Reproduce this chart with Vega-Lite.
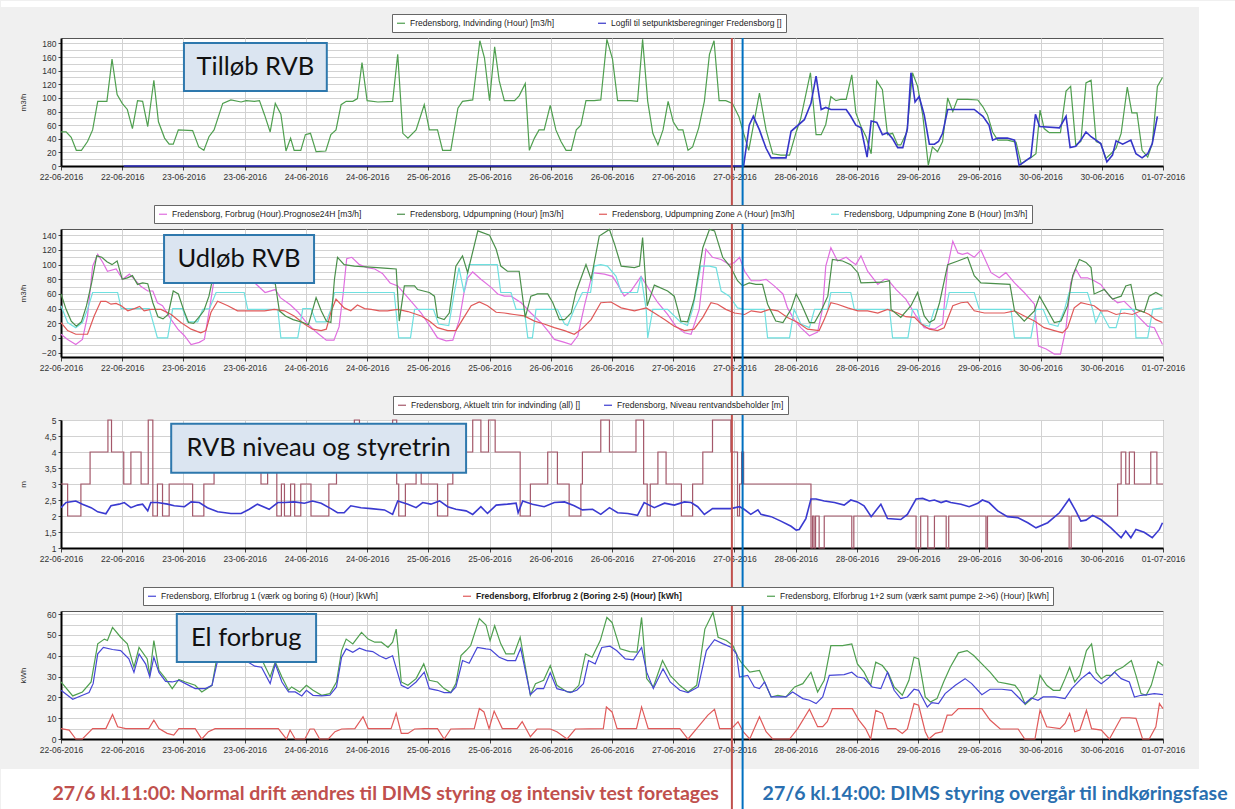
{
"$schema":"https://vega.github.io/schema/vega-lite/v6.json",
"background":"#f0f0f0",
"padding":0,
"bounds":"flush",
"spacing":63,
"resolve":{"scale":{"color":"independent"},"legend":{"color":"independent"}},
"config":{
 "view":{"fill":"white","stroke":"#555","strokeWidth":1},
 "axis":{"labelFont":"Liberation Sans","labelFontSize":8.5,"labelColor":"#333","labelOverlap":false,"labelSeparation":0,"titleFont":"Liberation Sans","titleFontSize":8,"titleFontWeight":"normal","titleColor":"#333","gridColor":"#d2d2d2","gridWidth":1,"tickColor":"#444","domainColor":"#000","domainWidth":2},
 "legend":{"fillColor":"white","strokeColor":"#666","padding":4,"labelFont":"Liberation Sans","labelFontSize":8.5,"labelColor":"#222","symbolType":"stroke","symbolSize":64,"symbolStrokeWidth":1.5,"labelLimit":400,"symbolOffset":0},
 "line":{"strokeWidth":1.2}
},
"datasets":{
"p1g":[{"t":0,"v":50},{"t":1,"v":50},{"t":2,"v":42},{"t":3,"v":23},{"t":4,"v":23},{"t":5.2,"v":36},{"t":6.2,"v":53},{"t":7.2,"v":95},{"t":9,"v":95},{"t":10,"v":157},{"t":11,"v":105},{"t":12,"v":92},{"t":13,"v":83},{"t":14,"v":55},{"t":15,"v":96},{"t":16,"v":95},{"t":17,"v":58},{"t":18.2,"v":126},{"t":19.1,"v":65},{"t":20.3,"v":41},{"t":21.2,"v":32},{"t":22,"v":32},{"t":23,"v":53},{"t":25.8,"v":52},{"t":27,"v":28},{"t":28,"v":23},{"t":29,"v":43},{"t":30,"v":53},{"t":31.7,"v":92},{"t":33.3,"v":97},{"t":35.3,"v":94},{"t":36.3,"v":96},{"t":37.9,"v":95},{"t":38.9,"v":96},{"t":39.9,"v":75},{"t":41,"v":50},{"t":42,"v":92},{"t":43.1,"v":76},{"t":44.1,"v":22},{"t":45,"v":41},{"t":45.7,"v":23},{"t":47,"v":23},{"t":47.9,"v":46},{"t":48.9,"v":48},{"t":50,"v":21},{"t":51.9,"v":22},{"t":52.9,"v":46},{"t":53.9,"v":53},{"t":54.9,"v":90},{"t":55.9,"v":95},{"t":57.2,"v":95},{"t":58.1,"v":99},{"t":59,"v":152},{"t":60,"v":96},{"t":62.1,"v":94},{"t":65,"v":95},{"t":66,"v":164},{"t":67,"v":48},{"t":68,"v":41},{"t":69.6,"v":53},{"t":71.2,"v":90},{"t":72.2,"v":53},{"t":73.8,"v":53},{"t":74.8,"v":23},{"t":76.4,"v":23},{"t":77.8,"v":85},{"t":78.7,"v":95},{"t":80.7,"v":97},{"t":82.1,"v":184},{"t":83,"v":159},{"t":84,"v":96},{"t":85,"v":175},{"t":85.9,"v":125},{"t":86.9,"v":96},{"t":88.9,"v":96},{"t":89.8,"v":103},{"t":91,"v":121},{"t":91.8,"v":23},{"t":92.8,"v":41},{"t":93.7,"v":53},{"t":94.7,"v":53},{"t":95.9,"v":89},{"t":97,"v":53},{"t":98,"v":36},{"t":99,"v":23},{"t":100,"v":23},{"t":101,"v":53},{"t":101.9,"v":60},{"t":102.9,"v":96},{"t":104.5,"v":96},{"t":105.8,"v":97},{"t":107,"v":186},{"t":108.1,"v":157},{"t":109.1,"v":96},{"t":111.7,"v":96},{"t":113,"v":95},{"t":114,"v":186},{"t":115,"v":95},{"t":116,"v":48},{"t":117,"v":31},{"t":118,"v":53},{"t":119,"v":95},{"t":120,"v":65},{"t":121,"v":53},{"t":121.9,"v":53},{"t":122.9,"v":23},{"t":123.8,"v":28},{"t":125,"v":56},{"t":126.1,"v":95},{"t":127.1,"v":164},{"t":128,"v":184},{"t":129,"v":96},{"t":130.3,"v":96},{"t":131.6,"v":92},{"t":132.9,"v":72},{"t":133.8,"v":48},{"t":134.8,"v":23},{"t":136.9,"v":107},{"t":138.2,"v":53},{"t":139.5,"v":18},{"t":141.1,"v":16},{"t":142.8,"v":16},{"t":144.1,"v":50},{"t":145,"v":70},{"t":146.9,"v":137},{"t":148,"v":46},{"t":149,"v":46},{"t":149.9,"v":61},{"t":150.9,"v":102},{"t":151.9,"v":96},{"t":152.9,"v":98},{"t":153.9,"v":98},{"t":155,"v":134},{"t":155.8,"v":78},{"t":156.8,"v":58},{"t":157.8,"v":43},{"t":158.8,"v":18},{"t":159.9,"v":125},{"t":161,"v":112},{"t":162,"v":46},{"t":163,"v":48},{"t":164,"v":31},{"t":164.6,"v":31},{"t":165.8,"v":50},{"t":166.9,"v":137},{"t":167.9,"v":117},{"t":168.9,"v":75},{"t":170,"v":1},{"t":170.8,"v":28},{"t":171.8,"v":21},{"t":172.8,"v":36},{"t":173.8,"v":100},{"t":174.8,"v":80},{"t":175.7,"v":98},{"t":177.7,"v":98},{"t":179.7,"v":97},{"t":180.7,"v":87},{"t":181.6,"v":75},{"t":182.6,"v":50},{"t":183.6,"v":38},{"t":185.5,"v":38},{"t":187.2,"v":35},{"t":188.2,"v":3},{"t":189.1,"v":8},{"t":190.1,"v":12},{"t":191.1,"v":18},{"t":191.9,"v":82},{"t":192.7,"v":55},{"t":193.7,"v":49},{"t":195.9,"v":49},{"t":197,"v":110},{"t":197.9,"v":117},{"t":198.9,"v":31},{"t":199.9,"v":36},{"t":200.9,"v":122},{"t":201.9,"v":126},{"t":202.9,"v":36},{"t":203.8,"v":33},{"t":204.8,"v":11},{"t":205.8,"v":18},{"t":206.8,"v":26},{"t":207.8,"v":48},{"t":209,"v":116},{"t":209.9,"v":78},{"t":210.9,"v":78},{"t":211.9,"v":23},{"t":213,"v":13},{"t":213.9,"v":33},{"t":214.9,"v":117},{"t":215.9,"v":130}],
"p1b":[{"t":12.3,"v":0},{"t":133.8,"v":0},{"t":134.9,"v":60},{"t":135.7,"v":73},{"t":136.9,"v":53},{"t":138.2,"v":26},{"t":139.2,"v":12},{"t":142.1,"v":12},{"t":143.1,"v":51},{"t":145.7,"v":68},{"t":147,"v":92},{"t":148,"v":132},{"t":149,"v":83},{"t":149.9,"v":86},{"t":150.9,"v":83},{"t":153.9,"v":83},{"t":154.8,"v":73},{"t":155.8,"v":60},{"t":156.8,"v":56},{"t":158,"v":13},{"t":158.8,"v":66},{"t":159.9,"v":64},{"t":161,"v":46},{"t":162,"v":49},{"t":163,"v":40},{"t":164,"v":27},{"t":165,"v":27},{"t":165.9,"v":55},{"t":166.6,"v":137},{"t":167.4,"v":94},{"t":168.2,"v":102},{"t":169.2,"v":75},{"t":170.2,"v":32},{"t":171.2,"v":32},{"t":172,"v":36},{"t":172.8,"v":48},{"t":173.8,"v":83},{"t":179,"v":83},{"t":180.7,"v":73},{"t":181.9,"v":60},{"t":182.6,"v":38},{"t":183.6,"v":41},{"t":185.5,"v":41},{"t":186.9,"v":38},{"t":187.8,"v":1},{"t":188.8,"v":6},{"t":190.1,"v":13},{"t":191,"v":76},{"t":191.8,"v":58},{"t":195.7,"v":56},{"t":197,"v":73},{"t":197.8,"v":27},{"t":198.9,"v":29},{"t":199.9,"v":38},{"t":200.9,"v":50},{"t":201.9,"v":43},{"t":203.8,"v":33},{"t":205,"v":6},{"t":206.1,"v":16},{"t":206.8,"v":37},{"t":208.1,"v":32},{"t":209.7,"v":38},{"t":210.7,"v":18},{"t":211.9,"v":12},{"t":213,"v":18},{"t":213.9,"v":33},{"t":214.9,"v":73}],
"p2p":[{"t":0,"v":5},{"t":1.3,"v":-2},{"t":2.9,"v":-9},{"t":4.2,"v":-2},{"t":5.2,"v":30},{"t":6.2,"v":98},{"t":7.2,"v":114},{"t":8.2,"v":103},{"t":9.1,"v":91},{"t":10.8,"v":94},{"t":12.1,"v":80},{"t":13.4,"v":87},{"t":14.4,"v":80},{"t":15.7,"v":70},{"t":17,"v":64},{"t":18,"v":64},{"t":18.9,"v":48},{"t":19.9,"v":44},{"t":21.6,"v":25},{"t":22.9,"v":12},{"t":24.2,"v":3},{"t":25.5,"v":-9},{"t":27.1,"v":-6},{"t":28.1,"v":-2},{"t":29.1,"v":39},{"t":30,"v":80},{"t":31,"v":108},{"t":32,"v":104},{"t":34,"v":96},{"t":36,"v":85},{"t":38,"v":75},{"t":40,"v":62},{"t":42,"v":66},{"t":43,"v":55},{"t":45,"v":45},{"t":46.5,"v":35},{"t":48,"v":22},{"t":50,"v":8},{"t":52,"v":-3},{"t":53.5,"v":-3},{"t":54.5,"v":15},{"t":55.3,"v":60},{"t":56,"v":108},{"t":57,"v":110},{"t":58.5,"v":100},{"t":60,"v":96},{"t":61.5,"v":94},{"t":63,"v":88},{"t":64.5,"v":75},{"t":66,"v":71},{"t":68,"v":55},{"t":70.6,"v":34},{"t":72.5,"v":14},{"t":73.8,"v":0},{"t":75.5,"v":-4},{"t":76.8,"v":-3},{"t":78.1,"v":25},{"t":79,"v":62},{"t":79.7,"v":82},{"t":80.7,"v":90},{"t":82.3,"v":80},{"t":84.3,"v":69},{"t":85.6,"v":60},{"t":86.9,"v":57},{"t":88.2,"v":57},{"t":90.2,"v":48},{"t":92.1,"v":34},{"t":94.1,"v":21},{"t":95.4,"v":10},{"t":96.7,"v":-2},{"t":98.7,"v":-6},{"t":100,"v":-9},{"t":101.3,"v":3},{"t":102.6,"v":44},{"t":104.2,"v":89},{"t":106.5,"v":87},{"t":108.1,"v":84},{"t":109.1,"v":73},{"t":110.4,"v":57},{"t":111.7,"v":64},{"t":113.7,"v":84},{"t":115.3,"v":66},{"t":117,"v":48},{"t":118.9,"v":32},{"t":120.5,"v":16},{"t":122.2,"v":7},{"t":123.5,"v":5},{"t":125.1,"v":39},{"t":126.4,"v":121},{"t":127.7,"v":110},{"t":129.4,"v":107},{"t":131,"v":100},{"t":132,"v":103},{"t":133,"v":110},{"t":134,"v":91},{"t":135.3,"v":78},{"t":136.9,"v":78},{"t":138.2,"v":80},{"t":139.8,"v":71},{"t":141.5,"v":60},{"t":142.4,"v":41},{"t":143.7,"v":25},{"t":145,"v":14},{"t":146.7,"v":3},{"t":148.3,"v":8},{"t":149.3,"v":41},{"t":149.9,"v":98},{"t":150.9,"v":123},{"t":152.2,"v":105},{"t":153.9,"v":110},{"t":154.8,"v":105},{"t":155.8,"v":100},{"t":156.8,"v":112},{"t":158.1,"v":91},{"t":160.1,"v":73},{"t":161.4,"v":80},{"t":162,"v":80},{"t":163.7,"v":66},{"t":165.6,"v":53},{"t":167.6,"v":30},{"t":169.2,"v":14},{"t":171.2,"v":12},{"t":172.8,"v":19},{"t":173.8,"v":98},{"t":174.8,"v":132},{"t":175.8,"v":116},{"t":176.7,"v":114},{"t":177.7,"v":116},{"t":179,"v":110},{"t":180.3,"v":120},{"t":182.3,"v":89},{"t":183.9,"v":82},{"t":185.2,"v":89},{"t":186.9,"v":75},{"t":188.8,"v":62},{"t":190.8,"v":46},{"t":191.6,"v":-11},{"t":193.1,"v":-15},{"t":194.7,"v":-22},{"t":195.9,"v":-22},{"t":197,"v":14},{"t":197.9,"v":75},{"t":198.9,"v":94},{"t":199.9,"v":82},{"t":201.2,"v":82},{"t":202.5,"v":78},{"t":203.8,"v":73},{"t":205.5,"v":57},{"t":207.1,"v":48},{"t":208.4,"v":50},{"t":209.7,"v":41},{"t":211,"v":30},{"t":213,"v":16},{"t":214.3,"v":14},{"t":215.9,"v":-9}],
"p2u":[{"t":0,"v":60},{"t":1,"v":39},{"t":2,"v":23},{"t":3,"v":16},{"t":4,"v":22},{"t":5,"v":44},{"t":6,"v":75},{"t":7,"v":112},{"t":8,"v":110},{"t":9,"v":104},{"t":10,"v":100},{"t":11,"v":105},{"t":12,"v":80},{"t":13,"v":82},{"t":14,"v":85},{"t":15,"v":73},{"t":16,"v":75},{"t":17,"v":74},{"t":18,"v":48},{"t":19,"v":29},{"t":20,"v":26},{"t":21,"v":32},{"t":22,"v":64},{"t":23,"v":60},{"t":24,"v":39},{"t":25,"v":21},{"t":26,"v":20},{"t":27,"v":28},{"t":28,"v":37},{"t":29,"v":57},{"t":30,"v":90},{"t":31,"v":108},{"t":32,"v":110},{"t":33,"v":106},{"t":34,"v":104},{"t":35,"v":100},{"t":36,"v":88},{"t":37,"v":76},{"t":40,"v":75},{"t":42,"v":74},{"t":42.8,"v":37},{"t":44,"v":30},{"t":45.5,"v":25},{"t":47.4,"v":21},{"t":48.5,"v":18},{"t":50,"v":55},{"t":51,"v":37},{"t":52,"v":23},{"t":52.9,"v":21},{"t":53.6,"v":80},{"t":54.2,"v":110},{"t":55.5,"v":100},{"t":57.5,"v":98},{"t":59.8,"v":97},{"t":62,"v":96},{"t":64,"v":95},{"t":65.7,"v":94},{"t":66.3,"v":23},{"t":67.3,"v":71},{"t":69.3,"v":71},{"t":69.9,"v":66},{"t":72.2,"v":62},{"t":73.2,"v":57},{"t":73.8,"v":28},{"t":75.1,"v":25},{"t":76.1,"v":34},{"t":77.4,"v":98},{"t":78.7,"v":112},{"t":79.7,"v":89},{"t":81.7,"v":146},{"t":84,"v":140},{"t":85.3,"v":121},{"t":86.2,"v":98},{"t":87.5,"v":91},{"t":89.8,"v":91},{"t":91,"v":28},{"t":92.1,"v":57},{"t":93.4,"v":60},{"t":95.4,"v":60},{"t":96.4,"v":48},{"t":97.7,"v":25},{"t":98.7,"v":25},{"t":100,"v":34},{"t":100.9,"v":62},{"t":102.9,"v":100},{"t":103.9,"v":80},{"t":105.5,"v":139},{"t":107.5,"v":148},{"t":108.5,"v":128},{"t":109.8,"v":98},{"t":112.4,"v":96},{"t":113.4,"v":98},{"t":114,"v":137},{"t":114.9,"v":44},{"t":116.3,"v":72},{"t":118.9,"v":64},{"t":120.2,"v":57},{"t":121.5,"v":23},{"t":122.8,"v":22},{"t":124.1,"v":53},{"t":125.8,"v":123},{"t":127.1,"v":148},{"t":128.1,"v":146},{"t":129.7,"v":110},{"t":131.3,"v":96},{"t":132.6,"v":78},{"t":133.6,"v":71},{"t":134.9,"v":75},{"t":136.2,"v":73},{"t":137.5,"v":73},{"t":138.5,"v":46},{"t":140.1,"v":23},{"t":141.5,"v":21},{"t":143.1,"v":39},{"t":144.1,"v":60},{"t":145,"v":48},{"t":146.7,"v":21},{"t":147.7,"v":21},{"t":149,"v":37},{"t":150.3,"v":57},{"t":151.2,"v":107},{"t":153.2,"v":105},{"t":154.8,"v":100},{"t":156.2,"v":89},{"t":156.8,"v":75},{"t":161,"v":76},{"t":162.4,"v":78},{"t":162.7,"v":39},{"t":164.6,"v":28},{"t":166.6,"v":44},{"t":167.9,"v":62},{"t":169.2,"v":30},{"t":170.2,"v":21},{"t":171.2,"v":25},{"t":172.2,"v":48},{"t":173.8,"v":100},{"t":175.8,"v":105},{"t":177.7,"v":110},{"t":179,"v":85},{"t":180.3,"v":75},{"t":186,"v":73},{"t":186.9,"v":37},{"t":188.8,"v":23},{"t":190.8,"v":37},{"t":191.8,"v":57},{"t":193.1,"v":41},{"t":194.7,"v":21},{"t":196,"v":23},{"t":197.3,"v":44},{"t":198.3,"v":85},{"t":199.6,"v":107},{"t":200.9,"v":103},{"t":201.9,"v":96},{"t":202.5,"v":60},{"t":204.5,"v":66},{"t":206.1,"v":53},{"t":207.8,"v":57},{"t":208.7,"v":71},{"t":209.7,"v":73},{"t":210.7,"v":39},{"t":212.3,"v":35},{"t":213.3,"v":57},{"t":214.6,"v":62},{"t":215.9,"v":57}],
"p2a":[{"t":0,"v":21},{"t":1.3,"v":10},{"t":2.9,"v":5},{"t":5.2,"v":5},{"t":6.5,"v":30},{"t":7.8,"v":50},{"t":8.8,"v":50},{"t":9.8,"v":46},{"t":10.8,"v":47},{"t":11.8,"v":44},{"t":13.1,"v":37},{"t":14.4,"v":40},{"t":15.4,"v":43},{"t":16.3,"v":37},{"t":17.6,"v":39},{"t":19.6,"v":39},{"t":21.6,"v":32},{"t":23.5,"v":21},{"t":25.5,"v":12},{"t":27.4,"v":7},{"t":28.4,"v":10},{"t":29.4,"v":35},{"t":30.7,"v":50},{"t":32.7,"v":44},{"t":34.6,"v":37},{"t":37.2,"v":37},{"t":39.9,"v":37},{"t":41.8,"v":39},{"t":43.8,"v":37},{"t":45.7,"v":30},{"t":47.7,"v":19},{"t":49.3,"v":12},{"t":51,"v":10},{"t":52,"v":12},{"t":52.9,"v":35},{"t":53.9,"v":53},{"t":55.5,"v":41},{"t":56.8,"v":37},{"t":58.1,"v":45},{"t":59.5,"v":40},{"t":60.8,"v":39},{"t":62.4,"v":37},{"t":64,"v":37},{"t":66,"v":39},{"t":68,"v":36},{"t":70.6,"v":30},{"t":72.2,"v":23},{"t":73.8,"v":14},{"t":75.8,"v":10},{"t":77.4,"v":10},{"t":78.7,"v":25},{"t":80.4,"v":44},{"t":82,"v":49},{"t":83.6,"v":44},{"t":85.3,"v":35},{"t":86.9,"v":34},{"t":88.8,"v":32},{"t":90.8,"v":30},{"t":92.8,"v":23},{"t":94.7,"v":19},{"t":96.7,"v":14},{"t":98.7,"v":10},{"t":100.6,"v":5},{"t":102.2,"v":13},{"t":103.9,"v":25},{"t":105.8,"v":48},{"t":107.8,"v":49},{"t":109.8,"v":41},{"t":112.4,"v":37},{"t":114.7,"v":41},{"t":116.3,"v":34},{"t":118.3,"v":25},{"t":120.2,"v":16},{"t":122.2,"v":10},{"t":124.1,"v":12},{"t":125.8,"v":28},{"t":127.4,"v":48},{"t":128.7,"v":46},{"t":130.3,"v":39},{"t":132,"v":34},{"t":134,"v":32},{"t":135.3,"v":37},{"t":137.2,"v":35},{"t":138.9,"v":39},{"t":140.5,"v":37},{"t":142.4,"v":28},{"t":144.4,"v":21},{"t":146.3,"v":12},{"t":148.6,"v":10},{"t":149.6,"v":25},{"t":150.9,"v":48},{"t":152.2,"v":46},{"t":154.2,"v":41},{"t":156.2,"v":37},{"t":158.1,"v":37},{"t":160.1,"v":34},{"t":162,"v":39},{"t":164,"v":34},{"t":165.6,"v":29},{"t":167.3,"v":28},{"t":168.6,"v":19},{"t":170.2,"v":12},{"t":171.8,"v":10},{"t":173.1,"v":14},{"t":174.8,"v":44},{"t":176.4,"v":48},{"t":177.7,"v":49},{"t":179,"v":37},{"t":181,"v":34},{"t":184.9,"v":34},{"t":186.9,"v":37},{"t":188.8,"v":30},{"t":190.8,"v":23},{"t":192.7,"v":14},{"t":194.7,"v":10},{"t":196.3,"v":7},{"t":197.3,"v":14},{"t":198.6,"v":41},{"t":199.9,"v":48},{"t":201.2,"v":46},{"t":202.5,"v":44},{"t":203.8,"v":37},{"t":205.1,"v":37},{"t":206.8,"v":32},{"t":208.4,"v":34},{"t":210,"v":32},{"t":211.7,"v":37},{"t":213.3,"v":32},{"t":214.6,"v":25},{"t":215.9,"v":21}],
"p2b":[{"t":0,"v":44},{"t":1.3,"v":21},{"t":2.9,"v":14},{"t":4.2,"v":21},{"t":5.2,"v":39},{"t":6.2,"v":62},{"t":11.1,"v":62},{"t":11.8,"v":40},{"t":17.3,"v":40},{"t":18.9,"v":0},{"t":20.9,"v":0},{"t":21.9,"v":40},{"t":23.8,"v":40},{"t":24.8,"v":22},{"t":26.8,"v":22},{"t":27.8,"v":39},{"t":29.1,"v":40},{"t":30.4,"v":62},{"t":35.9,"v":62},{"t":36.6,"v":39},{"t":42.5,"v":39},{"t":43.1,"v":0},{"t":46.4,"v":0},{"t":47.4,"v":40},{"t":49,"v":40},{"t":50,"v":22},{"t":52,"v":22},{"t":52.9,"v":39},{"t":53.6,"v":62},{"t":65.3,"v":62},{"t":66.2,"v":0},{"t":68.5,"v":0},{"t":69.3,"v":39},{"t":73,"v":39},{"t":74,"v":19},{"t":76,"v":17},{"t":77,"v":58},{"t":78,"v":96},{"t":79,"v":62},{"t":80,"v":100},{"t":85.5,"v":100},{"t":86.2,"v":62},{"t":88.2,"v":62},{"t":89.2,"v":39},{"t":90.8,"v":39},{"t":91.5,"v":0},{"t":92.4,"v":0},{"t":93.1,"v":39},{"t":97.3,"v":39},{"t":98.7,"v":19},{"t":99.3,"v":17},{"t":100.6,"v":39},{"t":102.2,"v":62},{"t":103.8,"v":62},{"t":104.5,"v":98},{"t":105.8,"v":100},{"t":107.1,"v":98},{"t":108.8,"v":84},{"t":109.8,"v":62},{"t":113,"v":62},{"t":113.7,"v":84},{"t":114.7,"v":39},{"t":115,"v":0},{"t":116,"v":39},{"t":118.9,"v":39},{"t":121.5,"v":21},{"t":122.8,"v":17},{"t":123.8,"v":39},{"t":125.4,"v":98},{"t":127.1,"v":98},{"t":128.4,"v":96},{"t":129.4,"v":64},{"t":131,"v":57},{"t":132.6,"v":41},{"t":133.9,"v":39},{"t":137.9,"v":39},{"t":138.5,"v":0},{"t":142.8,"v":0},{"t":143.7,"v":39},{"t":145,"v":19},{"t":146.7,"v":14},{"t":147.7,"v":39},{"t":150.3,"v":39},{"t":150.9,"v":62},{"t":154.8,"v":62},{"t":155.5,"v":39},{"t":162.4,"v":39},{"t":163,"v":0},{"t":166,"v":0},{"t":166.9,"v":39},{"t":167.8,"v":39},{"t":168.6,"v":19},{"t":170.2,"v":16},{"t":171.2,"v":39},{"t":173.4,"v":39},{"t":174.1,"v":62},{"t":179,"v":62},{"t":180,"v":39},{"t":186.2,"v":39},{"t":186.9,"v":0},{"t":190.1,"v":0},{"t":191.1,"v":39},{"t":192.5,"v":39},{"t":193.7,"v":19},{"t":195.4,"v":16},{"t":196.7,"v":39},{"t":197.6,"v":62},{"t":201.2,"v":62},{"t":202.2,"v":39},{"t":202.8,"v":21},{"t":203.8,"v":36},{"t":205.5,"v":14},{"t":206.8,"v":14},{"t":207.8,"v":39},{"t":210.4,"v":39},{"t":210.7,"v":0},{"t":213,"v":0},{"t":214,"v":39},{"t":215.9,"v":41}],
"p3a":[{"t":0,"v":3},{"t":1.3,"v":2},{"t":3.9,"v":3},{"t":5.7,"v":4},{"t":9.2,"v":5},{"t":9.9,"v":4},{"t":12.3,"v":3},{"t":13.7,"v":4},{"t":15.7,"v":3},{"t":17.1,"v":5},{"t":18,"v":2},{"t":18.9,"v":3},{"t":19.9,"v":2},{"t":21.2,"v":3},{"t":25.8,"v":2},{"t":28,"v":3},{"t":30,"v":4},{"t":39.2,"v":3},{"t":40.5,"v":4},{"t":42.3,"v":2},{"t":43.2,"v":3},{"t":43.8,"v":2},{"t":45,"v":3},{"t":45.8,"v":2},{"t":47,"v":3},{"t":49,"v":2},{"t":52.5,"v":3},{"t":54,"v":4},{"t":57.5,"v":5},{"t":58.5,"v":4},{"t":65,"v":5},{"t":65.8,"v":3},{"t":66.2,"v":2},{"t":67.5,"v":3},{"t":69.6,"v":4},{"t":70.6,"v":3},{"t":73.8,"v":2},{"t":75.8,"v":3},{"t":76.8,"v":4},{"t":80.7,"v":5},{"t":82.3,"v":4},{"t":83.8,"v":5},{"t":85.1,"v":4},{"t":90,"v":2},{"t":92,"v":3},{"t":95.4,"v":4},{"t":97.3,"v":3},{"t":99.6,"v":2},{"t":101.9,"v":3},{"t":102.2,"v":4},{"t":105.8,"v":5},{"t":107.5,"v":4},{"t":112.7,"v":5},{"t":114.2,"v":3},{"t":114.9,"v":2},{"t":115.5,"v":3},{"t":117,"v":4},{"t":118.6,"v":3},{"t":121.6,"v":2},{"t":123.8,"v":3},{"t":125.8,"v":4},{"t":127.7,"v":5},{"t":131.3,"v":4},{"t":132.6,"v":2},{"t":133,"v":3},{"t":133.4,"v":4},{"t":133.8,"v":3},{"t":147,"v":1},{"t":147.3,"v":2},{"t":147.6,"v":1},{"t":147.9,"v":2},{"t":148.6,"v":1},{"t":149.6,"v":2},{"t":155,"v":1},{"t":155.4,"v":2},{"t":167.6,"v":1},{"t":168.5,"v":2},{"t":169.9,"v":1},{"t":171.2,"v":2},{"t":173.5,"v":1},{"t":174,"v":2},{"t":181.3,"v":1},{"t":181.6,"v":2},{"t":197.6,"v":1},{"t":198,"v":2},{"t":207.1,"v":3},{"t":207.8,"v":4},{"t":208.7,"v":3},{"t":209.4,"v":4},{"t":210.4,"v":3},{"t":213.6,"v":4},{"t":214.8,"v":3},{"t":216,"v":3}],
"p3n":[{"t":0,"v":2.26},{"t":1,"v":2.42},{"t":2.9,"v":2.47},{"t":4.2,"v":2.37},{"t":5.9,"v":2.26},{"t":7.2,"v":2.13},{"t":8.8,"v":2.07},{"t":9.8,"v":2.32},{"t":11.4,"v":2.37},{"t":12.4,"v":2.42},{"t":13.7,"v":2.26},{"t":15,"v":2.34},{"t":16,"v":2.37},{"t":17,"v":2.16},{"t":17.6,"v":2.42},{"t":18.9,"v":2.42},{"t":20.9,"v":2.37},{"t":22.2,"v":2.32},{"t":24.2,"v":2.29},{"t":25.5,"v":2.44},{"t":27.1,"v":2.42},{"t":28.7,"v":2.26},{"t":30.7,"v":2.13},{"t":33.3,"v":2.08},{"t":35.3,"v":2.08},{"t":36.9,"v":2.21},{"t":38.5,"v":2.37},{"t":40.8,"v":2.21},{"t":42.5,"v":2.42},{"t":43.8,"v":2.42},{"t":45.7,"v":2.44},{"t":47.7,"v":2.4},{"t":49.3,"v":2.47},{"t":51,"v":2.4},{"t":52.9,"v":2.23},{"t":54.2,"v":2.1},{"t":55.5,"v":2.1},{"t":56.8,"v":2.32},{"t":58.8,"v":2.26},{"t":60.8,"v":2.23},{"t":63.4,"v":2.19},{"t":65,"v":2.05},{"t":66,"v":2.47},{"t":68,"v":2.37},{"t":69.6,"v":2.26},{"t":70.9,"v":2.42},{"t":72.5,"v":2.37},{"t":74.2,"v":2.47},{"t":75.8,"v":2.29},{"t":77.4,"v":2.21},{"t":79.4,"v":2.16},{"t":80.7,"v":2.05},{"t":82.3,"v":2.29},{"t":83.6,"v":2.08},{"t":85.3,"v":2.34},{"t":87.5,"v":2.37},{"t":89.2,"v":2.4},{"t":89.6,"v":2.1},{"t":90.5,"v":2.47},{"t":92.4,"v":2.37},{"t":94.7,"v":2.29},{"t":96.7,"v":2.42},{"t":98.7,"v":2.44},{"t":100.6,"v":2.32},{"t":102.2,"v":2.19},{"t":104.2,"v":2.21},{"t":105.8,"v":2.05},{"t":107.5,"v":2.26},{"t":109.1,"v":2.1},{"t":111.1,"v":2.08},{"t":113,"v":2.02},{"t":114.3,"v":2.42},{"t":116.3,"v":2.26},{"t":118.3,"v":2.4},{"t":120.2,"v":2.34},{"t":122.2,"v":2.44},{"t":123.5,"v":2.42},{"t":124.8,"v":2.29},{"t":126.1,"v":2.05},{"t":127.7,"v":2.23},{"t":131.3,"v":2.23},{"t":133,"v":2.29},{"t":133.9,"v":2.21},{"t":135.2,"v":2.05},{"t":136.6,"v":2.19},{"t":137.2,"v":2.05},{"t":139.2,"v":1.98},{"t":141.1,"v":1.84},{"t":143.1,"v":1.68},{"t":144.1,"v":1.56},{"t":144.7,"v":1.58},{"t":146,"v":1.92},{"t":147,"v":2.53},{"t":148,"v":2.53},{"t":149.6,"v":2.47},{"t":151.6,"v":2.42},{"t":153.5,"v":2.34},{"t":154.8,"v":2.5},{"t":156.1,"v":2.44},{"t":157.4,"v":2.32},{"t":158.8,"v":1.98},{"t":160.7,"v":2.37},{"t":162,"v":1.92},{"t":164.6,"v":1.89},{"t":165.9,"v":2.05},{"t":167.6,"v":2.53},{"t":168.9,"v":2.55},{"t":170.2,"v":2.47},{"t":171.2,"v":2.5},{"t":172.5,"v":2.42},{"t":173.5,"v":2.47},{"t":174.4,"v":2.42},{"t":176.4,"v":2.37},{"t":178,"v":2.29},{"t":179.7,"v":2.4},{"t":180.6,"v":2.5},{"t":181.9,"v":2.42},{"t":183.6,"v":2.16},{"t":185.5,"v":1.98},{"t":187.5,"v":1.95},{"t":189.5,"v":1.79},{"t":191.1,"v":1.63},{"t":193.4,"v":1.79},{"t":195.7,"v":2.1},{"t":197.6,"v":2.53},{"t":198.9,"v":2.16},{"t":199.9,"v":1.84},{"t":200.9,"v":1.87},{"t":202.2,"v":2.02},{"t":203.8,"v":1.89},{"t":205.8,"v":1.63},{"t":207.8,"v":1.32},{"t":208.7,"v":1.53},{"t":209.7,"v":1.32},{"t":210.7,"v":1.58},{"t":212.3,"v":1.49},{"t":213.9,"v":1.32},{"t":215.3,"v":1.58},{"t":215.9,"v":1.79}],
"p4a":[{"t":0,"v":23.4},{"t":2.3,"v":19.1},{"t":4.2,"v":21},{"t":5.5,"v":22.3},{"t":6.3,"v":26.6},{"t":7.2,"v":40.9},{"t":8.3,"v":44},{"t":10.1,"v":43},{"t":11.7,"v":42.5},{"t":13.3,"v":38.5},{"t":14.3,"v":32},{"t":15.3,"v":40.9},{"t":16.6,"v":36},{"t":17.4,"v":29.8},{"t":18.2,"v":39.3},{"t":19.2,"v":32},{"t":20.5,"v":27.7},{"t":21.8,"v":27.4},{"t":23.1,"v":28.2},{"t":24.4,"v":26.6},{"t":26.3,"v":24.2},{"t":28.3,"v":24.2},{"t":29.6,"v":25.8},{"t":30.9,"v":40},{"t":32,"v":42},{"t":34,"v":42},{"t":36,"v":38},{"t":38,"v":35},{"t":39.3,"v":34.5},{"t":41,"v":26.6},{"t":42,"v":36},{"t":43.3,"v":27.4},{"t":44.6,"v":22.6},{"t":45.9,"v":22.6},{"t":47.2,"v":20.7},{"t":48.1,"v":23.4},{"t":49.4,"v":21},{"t":51.1,"v":20.7},{"t":52.7,"v":21},{"t":54,"v":25},{"t":55,"v":39.3},{"t":55.9,"v":43.3},{"t":57.2,"v":41.7},{"t":58.5,"v":43.6},{"t":59.8,"v":42.5},{"t":61.1,"v":42},{"t":62.4,"v":40},{"t":63.7,"v":38.5},{"t":65,"v":40},{"t":66.7,"v":25.8},{"t":68,"v":24.2},{"t":69.6,"v":27.4},{"t":71.2,"v":32.1},{"t":72.2,"v":24.2},{"t":73.8,"v":23.4},{"t":75.1,"v":22.3},{"t":76.4,"v":22.3},{"t":77.4,"v":25},{"t":78.7,"v":37.7},{"t":80,"v":36.4},{"t":81.6,"v":44},{"t":83.3,"v":43.3},{"t":84.2,"v":43},{"t":85.9,"v":39.3},{"t":87.5,"v":37.7},{"t":89.1,"v":37.7},{"t":90.1,"v":43.6},{"t":92,"v":21.3},{"t":93.3,"v":24.2},{"t":94.6,"v":24.2},{"t":95.9,"v":31.8},{"t":97.2,"v":24.2},{"t":98.5,"v":23.4},{"t":99.8,"v":22.3},{"t":101.1,"v":23.4},{"t":102.4,"v":26.6},{"t":103.4,"v":37.7},{"t":104.7,"v":36.1},{"t":106,"v":44},{"t":107.6,"v":44.6},{"t":108.9,"v":42.5},{"t":110.6,"v":38.5},{"t":112.2,"v":38},{"t":113.8,"v":44},{"t":114.8,"v":32.1},{"t":116.1,"v":24.2},{"t":118,"v":33.7},{"t":119.4,"v":27.4},{"t":121.3,"v":23.4},{"t":122.9,"v":22.3},{"t":124.9,"v":25},{"t":126.5,"v":42.5},{"t":128.1,"v":47.7},{"t":129.8,"v":45.7},{"t":131.4,"v":44},{"t":132.4,"v":40.9},{"t":133,"v":29.8},{"t":134.6,"v":30.6},{"t":135.9,"v":25},{"t":136.9,"v":24.2},{"t":137.9,"v":27.4},{"t":139.2,"v":20.2},{"t":142.1,"v":20.2},{"t":143.4,"v":22.6},{"t":145.4,"v":19.4},{"t":146.7,"v":18.6},{"t":148,"v":17},{"t":149.3,"v":20.2},{"t":150.6,"v":30.6},{"t":153.5,"v":30.9},{"t":155,"v":32.1},{"t":156.1,"v":29.8},{"t":157.4,"v":29.3},{"t":159,"v":25},{"t":160.7,"v":24.2},{"t":162,"v":32.1},{"t":163.3,"v":23.4},{"t":164.6,"v":19.4},{"t":165.9,"v":20.2},{"t":167.2,"v":23.9},{"t":168.1,"v":23.4},{"t":169.8,"v":15.4},{"t":170.7,"v":17.5},{"t":172,"v":17},{"t":173.3,"v":21.8},{"t":175.3,"v":25.8},{"t":177.2,"v":29},{"t":178.5,"v":26.6},{"t":180.5,"v":21.3},{"t":182.1,"v":23.9},{"t":184.4,"v":23.9},{"t":186.3,"v":23.4},{"t":187.6,"v":20.2},{"t":188.9,"v":17},{"t":190.2,"v":19.7},{"t":191.5,"v":18.6},{"t":192.5,"v":20.2},{"t":194.8,"v":20.2},{"t":196.8,"v":19.4},{"t":198.1,"v":24.2},{"t":200,"v":29},{"t":201.6,"v":32.1},{"t":202.6,"v":29},{"t":203.9,"v":26.6},{"t":205.2,"v":29},{"t":206.5,"v":32.1},{"t":207.8,"v":29},{"t":209.4,"v":27.4},{"t":210.4,"v":20.2},{"t":211.7,"v":21},{"t":213,"v":21.3},{"t":214.3,"v":21.8},{"t":216,"v":21.3}],
"p4b":[{"t":0,"v":5},{"t":1.6,"v":4.3},{"t":2.9,"v":0},{"t":4.2,"v":0},{"t":6.2,"v":5},{"t":8.8,"v":5},{"t":10.1,"v":11.8},{"t":11.1,"v":5.9},{"t":12.7,"v":5},{"t":17.2,"v":5},{"t":18.2,"v":9},{"t":19.2,"v":5},{"t":20.8,"v":2.7},{"t":22.1,"v":1.9},{"t":23.1,"v":5},{"t":26.3,"v":5},{"t":27.6,"v":0},{"t":28.9,"v":3.5},{"t":30.2,"v":5},{"t":42.6,"v":5},{"t":44.2,"v":0},{"t":44.9,"v":4.3},{"t":45.9,"v":0},{"t":47.8,"v":0},{"t":48.8,"v":4.8},{"t":49.6,"v":4.8},{"t":50.7,"v":0},{"t":52.4,"v":0},{"t":53.7,"v":3.5},{"t":55,"v":4.8},{"t":57.6,"v":5},{"t":59.2,"v":10.7},{"t":60.2,"v":5},{"t":64.7,"v":5},{"t":65.7,"v":12.3},{"t":66.7,"v":2.7},{"t":68,"v":2.7},{"t":69.3,"v":4.8},{"t":71.2,"v":5},{"t":73.8,"v":5},{"t":75.1,"v":0},{"t":76.4,"v":4.8},{"t":81,"v":5},{"t":82,"v":14.6},{"t":82.9,"v":13},{"t":83.9,"v":5},{"t":84.9,"v":13.4},{"t":86.5,"v":5},{"t":89.4,"v":5},{"t":90.4,"v":8.3},{"t":92,"v":1.1},{"t":93.3,"v":4.8},{"t":95.9,"v":4.8},{"t":97.2,"v":3.5},{"t":99.2,"v":0},{"t":100.8,"v":4.8},{"t":106.3,"v":5},{"t":106.9,"v":15.4},{"t":108,"v":13},{"t":109,"v":5},{"t":112.8,"v":5},{"t":113.8,"v":15.4},{"t":115.1,"v":5},{"t":121.3,"v":5},{"t":122.9,"v":0},{"t":124.6,"v":5},{"t":126.8,"v":11.5},{"t":128.1,"v":14.3},{"t":129.1,"v":5},{"t":131.4,"v":5},{"t":132.7,"v":8.3},{"t":133.7,"v":3.5},{"t":135,"v":0},{"t":136.9,"v":10.7},{"t":138.2,"v":3.5},{"t":139.5,"v":0},{"t":142.8,"v":0},{"t":144.4,"v":5},{"t":146.7,"v":14.3},{"t":148.3,"v":5.9},{"t":149.3,"v":5.9},{"t":150.2,"v":8.3},{"t":151.2,"v":14.6},{"t":155.1,"v":14.6},{"t":156.4,"v":9.1},{"t":157.7,"v":5},{"t":158.7,"v":0},{"t":159.7,"v":13.8},{"t":161,"v":12.3},{"t":162,"v":5},{"t":163.6,"v":5},{"t":164.9,"v":2.7},{"t":165.9,"v":4.8},{"t":167.2,"v":17},{"t":168.1,"v":16.2},{"t":169.4,"v":3.5},{"t":170.1,"v":0},{"t":171.4,"v":2.7},{"t":172.7,"v":3.5},{"t":173.7,"v":11.5},{"t":174.6,"v":11.5},{"t":175.9,"v":14.6},{"t":180.5,"v":14.6},{"t":182.1,"v":9.1},{"t":184.1,"v":4.8},{"t":187.6,"v":4.8},{"t":188.9,"v":0},{"t":190.9,"v":0},{"t":191.9,"v":13.8},{"t":193.2,"v":5.9},{"t":195.8,"v":5},{"t":196.8,"v":7.5},{"t":197.7,"v":12.3},{"t":198.7,"v":3.5},{"t":199.7,"v":4.3},{"t":201,"v":13.8},{"t":202,"v":5},{"t":203.9,"v":4.3},{"t":205.5,"v":0},{"t":207.8,"v":10.2},{"t":209.4,"v":10.2},{"t":210.7,"v":9.9},{"t":212,"v":0},{"t":213.3,"v":0},{"t":214.6,"v":5.9},{"t":215.3,"v":17},{"t":216,"v":14.6}],
"p4s":[{"t":0,"v":27.4},{"t":2.3,"v":20.7},{"t":4.2,"v":22.6},{"t":5.9,"v":27.4},{"t":7.2,"v":45.7},{"t":8.5,"v":48},{"t":9.1,"v":47.3},{"t":10.1,"v":53.6},{"t":11.7,"v":48.9},{"t":13,"v":45.7},{"t":14.3,"v":34.5},{"t":15.3,"v":44},{"t":16.9,"v":38.5},{"t":17.4,"v":30.6},{"t":18.2,"v":47.3},{"t":19.2,"v":33},{"t":20.5,"v":29},{"t":21.8,"v":24.2},{"t":23.1,"v":28.6},{"t":24.4,"v":27.4},{"t":26.3,"v":25.8},{"t":27.6,"v":22.6},{"t":29.6,"v":25.8},{"t":30.9,"v":44},{"t":32,"v":48},{"t":34,"v":47},{"t":36,"v":42},{"t":38,"v":37.7},{"t":39.3,"v":38.5},{"t":41,"v":29.8},{"t":42,"v":37},{"t":43.3,"v":29.8},{"t":44.6,"v":23.4},{"t":45.2,"v":25},{"t":46.8,"v":22.6},{"t":48.1,"v":25.8},{"t":49.4,"v":23.4},{"t":51.1,"v":21},{"t":52.7,"v":21.8},{"t":54,"v":27.4},{"t":55,"v":42.5},{"t":55.9,"v":48},{"t":57.2,"v":45.7},{"t":58.9,"v":51.2},{"t":60.2,"v":48},{"t":61.5,"v":46.5},{"t":62.8,"v":46.5},{"t":64.1,"v":44},{"t":65,"v":46.5},{"t":65.7,"v":52.8},{"t":66.7,"v":27.4},{"t":68,"v":25.8},{"t":69.6,"v":29},{"t":71.1,"v":36.1},{"t":72.2,"v":28.2},{"t":73.8,"v":27.4},{"t":75.1,"v":24.2},{"t":76.4,"v":22.3},{"t":77.4,"v":26.6},{"t":78.4,"v":40.1},{"t":79.4,"v":42.5},{"t":80.3,"v":44.9},{"t":82,"v":57.9},{"t":83.3,"v":54.8},{"t":84.1,"v":47.3},{"t":85,"v":54.4},{"t":86.2,"v":45.7},{"t":87.2,"v":40.9},{"t":88.8,"v":40.9},{"t":90,"v":48.9},{"t":92,"v":21},{"t":93,"v":26.6},{"t":94.6,"v":28.2},{"t":95.9,"v":35.3},{"t":97.2,"v":25.8},{"t":99.2,"v":22.6},{"t":100.2,"v":22.6},{"t":101.5,"v":25.8},{"t":102.8,"v":40.9},{"t":104.1,"v":39.3},{"t":105.7,"v":47.3},{"t":107,"v":58.4},{"t":108,"v":56},{"t":109.6,"v":43.3},{"t":111.5,"v":42},{"t":112.9,"v":41.7},{"t":113.8,"v":58.4},{"t":114.8,"v":29},{"t":116.1,"v":25},{"t":117.9,"v":37.7},{"t":119.4,"v":30.6},{"t":121.3,"v":25.8},{"t":122.9,"v":22.6},{"t":124.6,"v":25.8},{"t":126.2,"v":52.8},{"t":127.8,"v":60.8},{"t":128.8,"v":48.9},{"t":130.4,"v":47.3},{"t":131.7,"v":44.9},{"t":132.7,"v":39.3},{"t":133.3,"v":36.9},{"t":135,"v":32.1},{"t":136.9,"v":32.9},{"t":137.9,"v":27.4},{"t":139.2,"v":20.2},{"t":140.5,"v":21},{"t":142.1,"v":20.2},{"t":143.8,"v":25},{"t":145.4,"v":26.6},{"t":147,"v":32.1},{"t":148.3,"v":22.6},{"t":149.6,"v":28.2},{"t":150.9,"v":44.9},{"t":153.2,"v":44.9},{"t":155,"v":45.7},{"t":156.1,"v":36.1},{"t":157.4,"v":32.1},{"t":158.7,"v":25.8},{"t":159.7,"v":36.9},{"t":161,"v":35.3},{"t":162.2,"v":31.4},{"t":163.3,"v":25},{"t":164.9,"v":21},{"t":166.2,"v":28.2},{"t":167.2,"v":39.3},{"t":168.1,"v":38.5},{"t":169.4,"v":20.2},{"t":170.4,"v":17.8},{"t":171.7,"v":19.4},{"t":173,"v":27.4},{"t":174.3,"v":34.5},{"t":175.9,"v":41.4},{"t":177.6,"v":42.5},{"t":178.9,"v":40.1},{"t":180.5,"v":36.1},{"t":182.1,"v":32.1},{"t":183.7,"v":27.4},{"t":185.4,"v":26.6},{"t":187,"v":25.8},{"t":188,"v":22.6},{"t":189,"v":16.6},{"t":190.3,"v":19.4},{"t":191.2,"v":21.8},{"t":191.9,"v":30.6},{"t":193.2,"v":25.8},{"t":194.5,"v":23.4},{"t":195.8,"v":23.4},{"t":196.8,"v":29},{"t":197.7,"v":34.5},{"t":198.7,"v":27.4},{"t":199.7,"v":30.6},{"t":201,"v":42.5},{"t":202,"v":45.7},{"t":202.9,"v":32.1},{"t":203.9,"v":29},{"t":204.9,"v":30.6},{"t":205.9,"v":30.6},{"t":206.8,"v":32.9},{"t":208.1,"v":34.5},{"t":209.8,"v":37.7},{"t":210.7,"v":30.6},{"t":211.7,"v":21.8},{"t":212.7,"v":21},{"t":213.7,"v":25.8},{"t":215,"v":37.2},{"t":216,"v":35.3}]
},
"vconcat":[
{
 "width":1102,"height":128,
 "resolve":{"axis":{"y":"independent"}},
 "layer":[
  {"data":{"name":"p1g"},"mark":{"type":"line"},
   "encoding":{
    "x":{"field":"t","type":"quantitative","title":null,"scale":{"domain":[0,216],"nice":false,"zero":false},"axis":{"values":[0,12,24,36,48,60,72,84,96,108,120,132,144,156,168,180,192,204,216],"labelExpr":"timeFormat(datetime(2016,5,22,datum.value),'%d-%m-%Y')","title":null,"grid":true,"tickSize":4,"labelPadding":2,"labelFlush":false,"labelOverlap":false,"labelBound":false}},
    "y":{"field":"v","type":"quantitative","title":"m3/h","scale":{"domain":[0,188],"nice":false},"axis":{"orient":"left","values":[0,20,40,60,80,100,120,140,160,180],"labelOverlap":false,"title":"m3/h","titleX":-38,"titleY":64,"titleAngle":270,"titleAlign":"center","titleBaseline":"middle","grid":true,"tickSize":3,"labelPadding":2}},
    "color":{"datum":"Fredensborg, Indvinding (Hour) [m3/h]","type":"nominal","scale":{"domain":["Fredensborg, Indvinding (Hour) [m3/h]","Logfil til setpunktsberegninger Fredensborg []"],"range":["#4f9f4f","#3535c8"]},"legend":{"orient":"none","legendX":331,"legendY":-24,"direction":"horizontal","title":null,"columnPadding":40}}}},
  {"data":{"values":[{}]},"mark":{"type":"rect","color":"white","xOffset":-60,"x2Offset":80,"yOffset":-37,"y2Offset":-31},
   "encoding":{"x":{"datum":0,"type":"quantitative","title":null},"x2":{"datum":216},"y":{"datum":188,"type":"quantitative","axis":null},"y2":{"datum":188}}},
  {"data":{"values":[{}]},"mark":{"type":"rect","color":"white","xOffset":36,"x2Offset":80,"yOffset":-37,"y2Offset":40},
   "encoding":{"x":{"datum":216,"type":"quantitative","title":null},"x2":{"datum":216},"y":{"datum":188,"type":"quantitative","axis":null},"y2":{"datum":0}}},
  {"data":{"name":"p1b"},"mark":{"type":"line","strokeWidth":1.6},
   "encoding":{"x":{"field":"t","type":"quantitative","title":null},"y":{"field":"v","type":"quantitative","axis":{"orient":"left","values":[10,30,50,70,90,110,130,150,170],"labels":false,"ticks":false,"domain":false,"grid":true,"title":null}},"color":{"datum":"Logfil til setpunktsberegninger Fredensborg []","type":"nominal"}}},
  {"data":{"values":[{}]},"mark":{"type":"rect","fill":"#dbe5f1","stroke":"#2e78ad","strokeWidth":2},
   "encoding":{"x":{"datum":24.1,"type":"quantitative","title":null},"x2":{"datum":52.1},"y":{"datum":180.7,"type":"quantitative","axis":null},"y2":{"datum":110.1}}},
  {"data":{"values":[{}]},"mark":{"type":"text","text":"Tilløb RVB","font":"Lato","fontSize":25.5,"color":"#111","align":"center","baseline":"middle"},
   "encoding":{"x":{"datum":38.1,"type":"quantitative","title":null},"y":{"datum":145.4,"type":"quantitative","axis":null}}},
  {"data":{"values":[{}]},"mark":{"type":"rule","color":"#c0504d","strokeWidth":2},
   "encoding":{"x":{"datum":131.5,"type":"quantitative","title":null},"y":{"datum":188,"type":"quantitative","axis":null},"y2":{"datum":0}}},
  {"data":{"values":[{}]},"mark":{"type":"rule","color":"#0070c0","strokeWidth":2},
   "encoding":{"x":{"datum":133.6,"type":"quantitative","title":null},"y":{"datum":188,"type":"quantitative","axis":null},"y2":{"datum":0}}}
 ]
},
{
 "width":1102,"height":128,
 "resolve":{"axis":{"y":"independent"}},
 "layer":[
  {"data":{"name":"p2p"},"mark":{"type":"line"},
   "encoding":{
    "x":{"field":"t","type":"quantitative","title":null,"scale":{"domain":[0,216],"nice":false,"zero":false},"axis":{"values":[0,12,24,36,48,60,72,84,96,108,120,132,144,156,168,180,192,204,216],"labelExpr":"timeFormat(datetime(2016,5,22,datum.value),'%d-%m-%Y')","title":null,"grid":true,"tickSize":4,"labelPadding":2,"labelFlush":false,"labelOverlap":false,"labelBound":false}},
    "y":{"field":"v","type":"quantitative","title":"m3/h","scale":{"domain":[-26,148.6],"nice":false,"zero":false},"axis":{"orient":"left","values":[-20,0,20,40,60,80,100,120,140],"labelOverlap":false,"title":"m3/h","titleX":-38,"titleY":64,"titleAngle":270,"titleAlign":"center","titleBaseline":"middle","grid":true,"tickSize":3,"labelPadding":2}},
    "color":{"datum":"Fredensborg, Forbrug (Hour).Prognose24H [m3/h]","type":"nominal","scale":{"domain":["Fredensborg, Forbrug (Hour).Prognose24H [m3/h]","Fredensborg, Udpumpning (Hour) [m3/h]","Fredensborg, Udpumpning Zone A (Hour) [m3/h]","Fredensborg, Udpumpning Zone B (Hour) [m3/h]"],"range":["#e06ee0","#4a8f4a","#e05858","#6fe0e0"]},"legend":{"orient":"none","legendX":93,"legendY":-24,"direction":"horizontal","title":null,"columnPadding":32}}}},
  {"data":{"values":[{}]},"mark":{"type":"rect","color":"white","xOffset":36,"x2Offset":80,"yOffset":-40,"y2Offset":40},
   "encoding":{"x":{"datum":216,"type":"quantitative","title":null},"x2":{"datum":216},"y":{"datum":148.6,"type":"quantitative","axis":null},"y2":{"datum":-26}}},
  {"data":{"name":"p2b"},"mark":{"type":"line"},
   "encoding":{"x":{"field":"t","type":"quantitative","title":null},"y":{"field":"v","type":"quantitative","axis":{"orient":"left","values":[-10,10,30,50,70,90,110,130],"labels":false,"ticks":false,"domain":false,"grid":true,"title":null}},"color":{"datum":"Fredensborg, Udpumpning Zone B (Hour) [m3/h]","type":"nominal"}}},
  {"data":{"name":"p2a"},"mark":{"type":"line"},
   "encoding":{"x":{"field":"t","type":"quantitative","title":null},"y":{"field":"v","type":"quantitative","axis":null},"color":{"datum":"Fredensborg, Udpumpning Zone A (Hour) [m3/h]","type":"nominal"}}},
  {"data":{"name":"p2u"},"mark":{"type":"line"},
   "encoding":{"x":{"field":"t","type":"quantitative","title":null},"y":{"field":"v","type":"quantitative","axis":null},"color":{"datum":"Fredensborg, Udpumpning (Hour) [m3/h]","type":"nominal"}}},
  {"data":{"values":[{}]},"mark":{"type":"rect","fill":"#dbe5f1","stroke":"#2e78ad","strokeWidth":2},
   "encoding":{"x":{"datum":20.2,"type":"quantitative","title":null},"x2":{"datum":49.6},"y":{"datum":140.4,"type":"quantitative","axis":null},"y2":{"datum":74.9}}},
  {"data":{"values":[{}]},"mark":{"type":"text","text":"Udløb RVB","font":"Lato","fontSize":25.5,"color":"#111","align":"center","baseline":"middle"},
   "encoding":{"x":{"datum":34.9,"type":"quantitative","title":null},"y":{"datum":107.6,"type":"quantitative","axis":null}}},
  {"data":{"values":[{}]},"mark":{"type":"rule","color":"#c0504d","strokeWidth":2,"yOffset":-63},
   "encoding":{"x":{"datum":131.5,"type":"quantitative","title":null},"y":{"datum":148.6,"type":"quantitative","axis":null},"y2":{"datum":-26}}},
  {"data":{"values":[{}]},"mark":{"type":"rule","color":"#0070c0","strokeWidth":2,"yOffset":-63},
   "encoding":{"x":{"datum":133.6,"type":"quantitative","title":null},"y":{"datum":148.6,"type":"quantitative","axis":null},"y2":{"datum":-26}}}
 ]
},
{
 "width":1102,"height":128,
 "resolve":{"axis":{"y":"independent"}},
 "layer":[
  {"data":{"name":"p3a"},"mark":{"type":"line","interpolate":"step-after"},
   "encoding":{
    "x":{"field":"t","type":"quantitative","title":null,"scale":{"domain":[0,216],"nice":false,"zero":false},"axis":{"values":[0,12,24,36,48,60,72,84,96,108,120,132,144,156,168,180,192,204,216],"labelExpr":"timeFormat(datetime(2016,5,22,datum.value),'%d-%m-%Y')","title":null,"grid":true,"tickSize":4,"labelPadding":2,"labelFlush":false,"labelOverlap":false,"labelBound":false}},
    "y":{"field":"v","type":"quantitative","title":"m","scale":{"domain":[1,5],"nice":false,"zero":false},"axis":{"orient":"left","values":[1,1.5,2,2.5,3,3.5,4,4.5,5],"format":"~g","labelExpr":"replace(datum.label,'.',',')","labelOverlap":false,"title":"m","titleX":-38,"titleY":64,"titleAngle":270,"titleAlign":"center","titleBaseline":"middle","grid":true,"tickSize":3,"labelPadding":2}},
    "color":{"datum":"Fredensborg, Aktuelt trin for indvinding (all) []","type":"nominal","scale":{"domain":["Fredensborg, Aktuelt trin for indvinding (all) []","Fredensborg, Niveau rentvandsbeholder [m]"],"range":["#a4586a","#3a3ad0"]},"legend":{"orient":"none","legendX":332,"legendY":-24,"direction":"horizontal","title":null,"columnPadding":20}}}},
  {"data":{"values":[{}]},"mark":{"type":"rect","color":"white","xOffset":36,"x2Offset":80,"yOffset":-40,"y2Offset":40},
   "encoding":{"x":{"datum":216,"type":"quantitative","title":null},"x2":{"datum":216},"y":{"datum":5,"type":"quantitative","axis":null},"y2":{"datum":1}}},
  {"data":{"name":"p3n"},"mark":{"type":"line","strokeWidth":1.6},
   "encoding":{"x":{"field":"t","type":"quantitative","title":null},"y":{"field":"v","type":"quantitative","axis":null},"color":{"datum":"Fredensborg, Niveau rentvandsbeholder [m]","type":"nominal"}}},
  {"data":{"values":[{}]},"mark":{"type":"rect","fill":"#dbe5f1","stroke":"#2e78ad","strokeWidth":2},
   "encoding":{"x":{"datum":21.6,"type":"quantitative","title":null},"x2":{"datum":79.4},"y":{"datum":4.88,"type":"quantitative","axis":null},"y2":{"datum":3.35}}},
  {"data":{"values":[{}]},"mark":{"type":"text","text":"RVB niveau og styretrin","font":"Lato","fontSize":25.5,"color":"#111","align":"center","baseline":"middle"},
   "encoding":{"x":{"datum":50.5,"type":"quantitative","title":null},"y":{"datum":4.12,"type":"quantitative","axis":null}}},
  {"data":{"values":[{}]},"mark":{"type":"rule","color":"#c0504d","strokeWidth":2,"yOffset":-63},
   "encoding":{"x":{"datum":131.5,"type":"quantitative","title":null},"y":{"datum":5,"type":"quantitative","axis":null},"y2":{"datum":1}}},
  {"data":{"values":[{}]},"mark":{"type":"rule","color":"#0070c0","strokeWidth":2,"yOffset":-63},
   "encoding":{"x":{"datum":133.6,"type":"quantitative","title":null},"y":{"datum":5,"type":"quantitative","axis":null},"y2":{"datum":1}}}
 ]
},
{
 "width":1102,"height":128,
 "resolve":{"axis":{"y":"independent"}},
 "layer":[
  {"data":{"name":"p4s"},"mark":{"type":"line"},
   "encoding":{
    "x":{"field":"t","type":"quantitative","title":null,"scale":{"domain":[0,216],"nice":false,"zero":false},"axis":{"values":[0,12,24,36,48,60,72,84,96,108,120,132,144,156,168,180,192,204,216],"labelExpr":"timeFormat(datetime(2016,5,22,datum.value),'%d-%m-%Y')","title":null,"grid":true,"tickSize":4,"labelPadding":2,"labelFlush":false,"labelOverlap":false,"labelBound":false}},
    "y":{"field":"v","type":"quantitative","title":"kWh","scale":{"domain":[0,61.5],"nice":false},"axis":{"orient":"left","values":[0,10,20,30,40,50,60],"labelOverlap":false,"title":"kWh","titleX":-38,"titleY":64,"titleAngle":270,"titleAlign":"center","titleBaseline":"middle","grid":true,"tickSize":3,"labelPadding":2}},
    "color":{"datum":"Fredensborg, Elforbrug 1+2 sum (værk samt pumpe 2->6) (Hour) [kWh]","type":"nominal","scale":{"domain":["Fredensborg, Elforbrug 1 (værk og boring 6) (Hour) [kWh]","Fredensborg, Elforbrug 2 (Boring 2-5) (Hour) [kWh]","Fredensborg, Elforbrug 1+2 sum (værk samt pumpe 2->6) (Hour) [kWh]"],"range":["#4646d6","#e05a5a","#4f9f4f"]},"legend":{"orient":"none","legendX":82,"legendY":-24,"direction":"horizontal","title":null,"columnPadding":82,"labelFontWeight":{"expr":"indexof(datum.label,'Boring 2-5') >= 0 ? 'bold' : 'normal'"}}}}},
  {"data":{"values":[{}]},"mark":{"type":"rect","color":"white","xOffset":36,"x2Offset":80,"yOffset":-40,"y2Offset":90},
   "encoding":{"x":{"datum":216,"type":"quantitative","title":null},"x2":{"datum":216},"y":{"datum":61.5,"type":"quantitative","axis":null},"y2":{"datum":0}}},
  {"data":{"values":[{}]},"mark":{"type":"rect","color":"white","xOffset":-60,"x2Offset":80,"yOffset":30,"y2Offset":90},
   "encoding":{"x":{"datum":0,"type":"quantitative","title":null},"x2":{"datum":216},"y":{"datum":0,"type":"quantitative","axis":null},"y2":{"datum":0}}},
  {"data":{"name":"p4a"},"mark":{"type":"line"},
   "encoding":{"x":{"field":"t","type":"quantitative","title":null},"y":{"field":"v","type":"quantitative","axis":{"orient":"left","values":[5,15,25,35,45,55],"labels":false,"ticks":false,"domain":false,"grid":true,"title":null}},"color":{"datum":"Fredensborg, Elforbrug 1 (værk og boring 6) (Hour) [kWh]","type":"nominal"}}},
  {"data":{"name":"p4b"},"mark":{"type":"line"},
   "encoding":{"x":{"field":"t","type":"quantitative","title":null},"y":{"field":"v","type":"quantitative","axis":null},"color":{"datum":"Fredensborg, Elforbrug 2 (Boring 2-5) (Hour) [kWh]","type":"nominal"}}},
  {"data":{"values":[{}]},"mark":{"type":"rect","fill":"#dbe5f1","stroke":"#2e78ad","strokeWidth":2},
   "encoding":{"x":{"datum":22.7,"type":"quantitative","title":null},"x2":{"datum":50},"y":{"datum":60,"type":"quantitative","axis":null},"y2":{"datum":37}}},
  {"data":{"values":[{}]},"mark":{"type":"text","text":"El forbrug","font":"Lato","fontSize":25.5,"color":"#111","align":"center","baseline":"middle"},
   "encoding":{"x":{"datum":36.3,"type":"quantitative","title":null},"y":{"datum":48.5,"type":"quantitative","axis":null}}},
  {"data":{"values":[{}]},"mark":{"type":"text","text":"27/6 kl.11:00: Normal drift ændres til DIMS styring og intensiv test foretages","font":"Lato","fontSize":19.5,"fontWeight":"bold","color":"#c0504d","align":"right","baseline":"middle","dx":-13},
   "encoding":{"x":{"datum":131.5,"type":"quantitative","title":null},"y":{"datum":-26.4,"type":"quantitative","axis":null}}},
  {"data":{"values":[{}]},"mark":{"type":"text","text":"27/6  kl.14:00: DIMS styring overgår til indkøringsfase","font":"Lato","fontSize":19.5,"fontWeight":"bold","color":"#2a6fb0","align":"left","baseline":"middle","dx":20},
   "encoding":{"x":{"datum":133.6,"type":"quantitative","title":null},"y":{"datum":-26.4,"type":"quantitative","axis":null}}},
  {"data":{"values":[{}]},"mark":{"type":"rule","color":"#c0504d","strokeWidth":2,"yOffset":-63,"y2Offset":90},
   "encoding":{"x":{"datum":131.5,"type":"quantitative","title":null},"y":{"datum":61.5,"type":"quantitative","axis":null},"y2":{"datum":0}}},
  {"data":{"values":[{}]},"mark":{"type":"rule","color":"#0070c0","strokeWidth":2,"yOffset":-63,"y2Offset":90},
   "encoding":{"x":{"datum":133.6,"type":"quantitative","title":null},"y":{"datum":61.5,"type":"quantitative","axis":null},"y2":{"datum":0}}}
 ]
}
]
}
